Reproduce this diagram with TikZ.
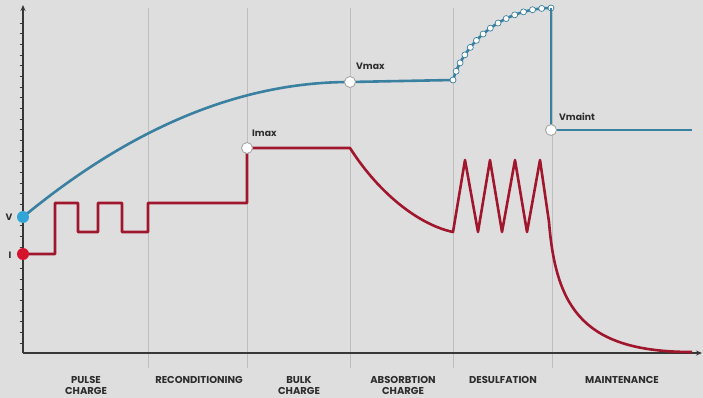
\documentclass[tikz,border=0pt]{standalone}
\usepackage{fontspec}
\setmainfont{Poppins}
\usetikzlibrary{arrows.meta,decorations.markings}
\definecolor{bg}{RGB}{222,222,222}
\definecolor{divc}{RGB}{190,190,190}
\definecolor{axisc}{RGB}{55,55,55}
\definecolor{vcol}{RGB}{58,128,160}
\definecolor{icol}{RGB}{160,22,45}
\definecolor{vdot}{RGB}{50,165,215}
\definecolor{idot}{RGB}{212,20,45}
\definecolor{txt}{RGB}{45,45,45}
\begin{document}
\begin{tikzpicture}[x=1pt,y=-1pt,
  divider/.style={draw=divc,line width=0.6pt},
  axisline/.style={draw=axisc,line width=1.4pt},
  tickline/.style={draw=axisc,line width=0.9pt},
  vline/.style={draw=vcol,line width=2.6pt,line join=round},
  iline/.style={draw=icol,line width=2.6pt,line join=round},
  opendot/.style={circle,draw=gray!70,line width=0.9pt,fill=white,inner sep=0pt,minimum size=11pt},
  smalldot/.style={circle,draw=vcol,line width=0.7pt,fill=white,inner sep=0pt,minimum size=6pt},
  vdotst/.style={circle,fill=vdot,inner sep=0pt,minimum size=12pt},
  idotst/.style={circle,fill=idot,inner sep=0pt,minimum size=12pt},
  lbl/.style={text=txt,font=\fontsize{9.3}{10}\selectfont\bfseries,inner sep=0pt},
  phase/.style={text=txt,font=\fontsize{10}{11}\selectfont\bfseries,align=center,inner sep=0pt,anchor=north}]
\useasboundingbox (0,0) rectangle (703,398);
\fill[bg] (0,0) rectangle (703,398);
% dividers
\foreach \xx in {148,247,350,453,552}
  \draw[divider] (\xx,8) -- (\xx,368);
% axes
\coordinate (O) at (23,353);
\coordinate (ytop) at (23,5);
\coordinate (xend) at (702,353);
\draw[axisline,-{Stealth[length=6pt,width=5pt]}] (O) -- (ytop);
\draw[axisline,-{Stealth[length=6pt,width=5pt]}] (O) -- (xend);
\foreach \k in {0,...,30}{
  \pgfmathsetmacro{\yy}{23+\k*10.667}
  \draw[tickline] (19.5,\yy) -- (24,\yy);
}
% key points
\coordinate (pV) at (23,217);
\coordinate (pVmax) at (350,82);
\coordinate (pA) at (453,80);
\coordinate (pB) at (551,8);
\coordinate (pVmaint) at (551,130);
\coordinate (pVend) at (692,130);
\coordinate (pI) at (23,254);
\coordinate (pImax) at (247,148);
% voltage curve
\draw[vline] (pV) .. controls (132,127) and (241,82) .. (pVmax) -- (pA);
\draw[vline,postaction={decorate,decoration={markings,
   mark=between positions 0 and 1 step 0.0714 with {\node[smalldot]{};}}}]
   (pA) .. controls (465,40) and (505,8) .. (pB);
\draw[vline] (pB) -- (pVmaint) -- (pVend);
% current curve
\draw[iline] (pI) -- (55,254) -- (55,203) -- (78,203) -- (78,232) -- (98,232)
  -- (98,203) -- (122,203) -- (122,232) -- (148,232) -- (148,203) -- (247,203)
  -- (pImax) -- (350,148) .. controls (380,195) and (420,225) .. (453,232)
  -- (465,160) -- (478,232) -- (490,160) -- (502,232) -- (515,160) -- (527,232)
  -- (540,160) -- (549,222) .. controls (556,310) and (585,352) .. (692,352);
% markers
\node[vdotst] (V) at (pV) {};
\node[idotst] (I) at (pI) {};
\node[opendot] (Vmax) at (pVmax) {};
\node[opendot] (Imax) at (pImax) {};
\node[opendot] (Vmaint) at (pVmaint) {};
% labels
\node[lbl] (lV) at (9,217) {V};
\node[lbl] (lI) at (10,255) {I};
\node[lbl,anchor=west] (lVmax) at (356,66) {Vmax};
\node[lbl,anchor=west] (lImax) at (252,133) {Imax};
\node[lbl,anchor=west] (lVmaint) at (559,117) {Vmaint};
% phases
\node[phase] (p1) at (86,376) {PULSE\\CHARGE};
\node[phase] (p2) at (199,376) {RECONDITIONING};
\node[phase] (p3) at (299,376) {BULK\\CHARGE};
\node[phase] (p4) at (403,376) {ABSORBTION\\CHARGE};
\node[phase] (p5) at (503,376) {DESULFATION};
\node[phase] (p6) at (622,376) {MAINTENANCE};
\end{tikzpicture}
\end{document}
